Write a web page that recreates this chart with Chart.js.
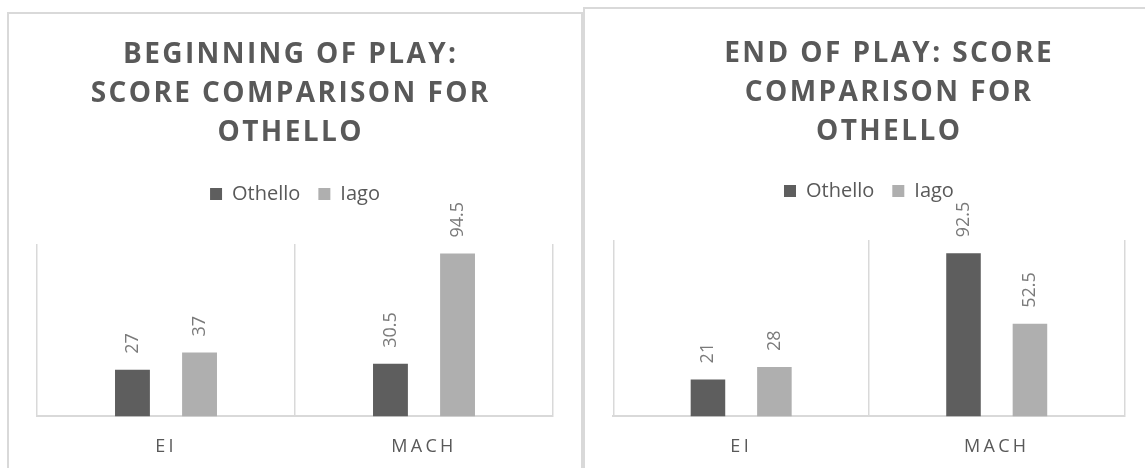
<!DOCTYPE html>
<html>
<head>
<meta charset="utf-8">
<title>Score comparison for Othello</title>
<script src="https://cdn.jsdelivr.net/npm/chart.js@4.4.1/dist/chart.umd.min.js"></script>
<style>
  html, body { margin: 0; padding: 0; background: #fff; }
  body { width: 1145px; height: 468px; overflow: hidden; position: relative; }
  .box { position: absolute; border: 2px solid #d9d9d9; background: #fff; }
  #boxLeft { left: 7px; top: 12px; width: 572px; height: 480px; }
  #boxRight { left: 583px; top: 7px; width: 640px; height: 480px; }
  canvas { position: absolute; }
  #begin { left: 8px; top: 13px; }
  #end { left: 584px; top: 13px; }
</style>
</head>
<body>
<div class="box" id="boxRight"></div>
<div class="box" id="boxLeft"></div>
<canvas id="begin" width="582" height="464"></canvas>
<canvas id="end" width="578" height="465"></canvas>
<script>
const categories = ['EI', 'MACH'];
const seriesNames = ['Othello', 'Iago'];
const beginOthello = [27, 30.5];
const beginIago = [37, 94.5];
const endOthello = [21, 92.5];
const endIago = [28, 52.5];
const beginTitle = ['BEGINNING OF PLAY:', 'SCORE COMPARISON FOR', 'OTHELLO'];
const endTitle = ['END OF PLAY: SCORE', 'COMPARISON FOR', 'OTHELLO'];

const grey = '#595959';
const othelloColor = '#5e5e5e';
const iagoColor = '#afafaf';

Chart.defaults.font.family = '"Open Sans", sans-serif';
Chart.defaults.color = grey;

// letter spacing on title + category labels, extra room under the legend
const tweaks = {
  id: 'tweaks',
  beforeInit(chart, args, opts) {
    const legend = chart.legend;
    const fit = legend.fit;
    legend.fit = function () {
      fit.call(this);
      this.height += opts.legendGap;
    };
    const title = chart.titleBlock;
    const draw = title.draw;
    title.draw = function () {
      const ctx = this.ctx;
      ctx.save();
      ctx.letterSpacing = opts.titleSpacing + 'px';
      ctx.translate(opts.titleShift, 0);
      draw.call(this);
      ctx.restore();
    };
  },
  afterLayout(chart, args, opts) {
    const x = chart.scales.x;
    if (x._spaced) return;
    const drawLabels = x.drawLabels;
    x.drawLabels = function (area) {
      const ctx = this.ctx;
      ctx.save();
      ctx.letterSpacing = opts.tickSpacing + 'px';
      drawLabels.call(this, area);
      ctx.restore();
    };
    x._spaced = true;
  }
};

// rotated value labels above each bar
const barLabels = {
  id: 'barLabels',
  afterDatasetsDraw(chart) {
    const ctx = chart.ctx;
    ctx.save();
    ctx.font = '18px "Open Sans"';
    ctx.fillStyle = '#7a7a7a';
    ctx.textAlign = 'left';
    ctx.textBaseline = 'middle';
    chart.data.datasets.forEach((ds, i) => {
      chart.getDatasetMeta(i).data.forEach((bar, j) => {
        ctx.save();
        ctx.translate(bar.x, bar.y - 16);
        ctx.rotate(-Math.PI / 2);
        ctx.fillText(String(ds.data[j]), 0, 0);
        ctx.restore();
      });
    });
    ctx.restore();
  }
};

function makeChart(id, titleLines, othello, iago, lay) {
  return new Chart(document.getElementById(id), {
    type: 'bar',
    data: {
      labels: categories,
      datasets: [
        { label: seriesNames[0], data: othello, backgroundColor: othelloColor, borderWidth: 0 },
        { label: seriesNames[1], data: iago, backgroundColor: iagoColor, borderWidth: 0 }
      ]
    },
    options: {
      responsive: false,
      animation: false,
      devicePixelRatio: 1,
      categoryPercentage: 0.52,
      barPercentage: 0.52,
      layout: { padding: { left: lay.left, right: lay.right, top: 0, bottom: 0 } },
      scales: {
        x: {
          grid: { color: '#d9d9d9', lineWidth: 1.5, drawTicks: false, offset: true },
          border: { color: '#d9d9d9', width: 2 },
          ticks: { color: grey, font: { size: 18, lineHeight: 1.2 }, padding: lay.tickPad }
        },
        y: { display: false, min: 0, max: 100 }
      },
      plugins: {
        title: {
          display: true,
          text: titleLines,
          color: grey,
          font: { size: 28, weight: 'bold', lineHeight: 1.386 },
          padding: { top: lay.titleTop, bottom: lay.titleBottom }
        },
        legend: {
          position: 'top',
          labels: { color: grey, font: { size: 20 }, boxWidth: 12, boxHeight: 12, padding: 18 }
        },
        tooltip: { enabled: false },
        tweaks: {
          legendGap: lay.legendGap,
          titleSpacing: 2.4,
          titleShift: lay.titleShift,
          tickSpacing: 3.3
        }
      }
    },
    plugins: [tweaks, barLabels]
  });
}

makeChart('begin', beginTitle, beginOthello, beginIago,
  { left: 29, right: 37, tickPad: 19.5, titleTop: 23, titleBottom: 13.6, legendGap: 30, titleShift: -4.3 });
makeChart('end', endTitle, endOthello, endIago,
  { left: 29.4, right: 37.5, tickPad: 20, titleTop: 22, titleBottom: 11.7, legendGap: 29, titleShift: 20.2 });
</script>
</body>
</html>
